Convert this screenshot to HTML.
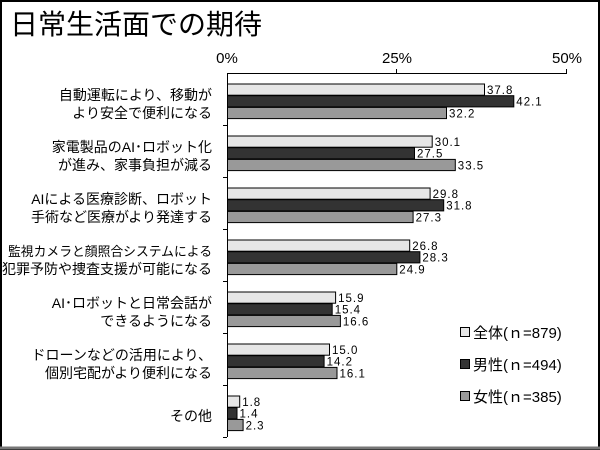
<!DOCTYPE html>
<html><head><meta charset="utf-8"><style>
body{margin:0;background:#fff}
svg{display:block}
text{font-family:"Liberation Sans","Noto Sans CJK JP",sans-serif}
</style></head><body>
<svg width="600" height="450" xmlns="http://www.w3.org/2000/svg">
<rect x="1" y="1" width="598" height="448" fill="#fff" stroke="#000" stroke-width="2"/>
<line x1="0" y1="448" x2="600" y2="448" stroke="#777" stroke-width="3"/>
<text x="10" y="34" font-size="28">日常生活面での期待</text>
<g font-size="15" text-anchor="middle">
<text x="227" y="63">0%</text><text x="397" y="63">25%</text><text x="567" y="63">50%</text>
</g>
<g stroke="#000" stroke-width="1">
<line x1="227.5" y1="73" x2="227.5" y2="437"/>
<line x1="227" y1="73.5" x2="567" y2="73.5"/>
<line x1="396.5" y1="69" x2="396.5" y2="73"/>
<line x1="566.5" y1="69" x2="566.5" y2="73"/>
<line x1="223" y1="125.5" x2="227" y2="125.5"/>
<line x1="223" y1="177.5" x2="227" y2="177.5"/>
<line x1="223" y1="229.5" x2="227" y2="229.5"/>
<line x1="223" y1="281.5" x2="227" y2="281.5"/>
<line x1="223" y1="333.5" x2="227" y2="333.5"/>
<line x1="223" y1="385.5" x2="227" y2="385.5"/>
<line x1="223" y1="437.5" x2="227" y2="437.5"/>
</g>
<g font-size="14" text-anchor="end">
<text x="212" y="100">自動運転により、移動が</text><text x="212" y="118">より安全で便利になる</text>
<text x="212" y="152">家電製品のAI･ロボット化</text><text x="212" y="170">が進み、家事負担が減る</text>
<text x="212" y="204">AIによる医療診断、ロボット</text><text x="212" y="222">手術など医療がより発達する</text>
<text x="212" y="256" font-size="13" textLength="204" lengthAdjust="spacingAndGlyphs">監視カメラと顔照合システムによる</text><text x="212" y="274">犯罪予防や捜査支援が可能になる</text>
<text x="212" y="308">AI･ロボットと日常会話が</text><text x="212" y="326">できるようになる</text>
<text x="212" y="360">ドローンなどの活用により、</text><text x="212" y="378">個別宅配がより便利になる</text>
<text x="212" y="421">その他</text>
</g>
<g id="bars" stroke="#000" stroke-width="1" font-size="11.5"></g>
<g font-size="15">
<rect x="460.5" y="327.5" width="9" height="9" fill="#e6e6e6" stroke="#000"/>
<text x="473" y="338">全体(ｎ=879)</text>
<rect x="460.5" y="359.5" width="9" height="9" fill="#333" stroke="#000"/>
<text x="473" y="370">男性(ｎ=494)</text>
<rect x="460.5" y="391.5" width="9" height="9" fill="#999" stroke="#000"/>
<text x="473" y="402">女性(ｎ=385)</text>
</g>
</svg>
<script>
var d=[[37.8,42.1,32.2],[30.1,27.5,33.5],[29.8,31.8,27.3],[26.8,28.3,24.9],[15.9,15.4,16.6],[15.0,14.2,16.1],[1.8,1.4,2.3]];
var c=["#e6e6e6","#333","#999"],g=document.getElementById("bars"),s="";
d.forEach(function(r,i){r.forEach(function(v,j){var y=73+52*i+11+j*11.7,w=v*6.8;
s+='<rect x="227.5" y="'+y.toFixed(1)+'" width="'+w.toFixed(1)+'" height="11.2" fill="'+c[j]+'"/>';
s+='<text x="'+(230+w).toFixed(1)+'" y="'+(y+10).toFixed(1)+'" stroke="none" fill="#000" letter-spacing="1">'+v.toFixed(1)+'</text>';});});
g.innerHTML=s;
</script>
</body></html>
